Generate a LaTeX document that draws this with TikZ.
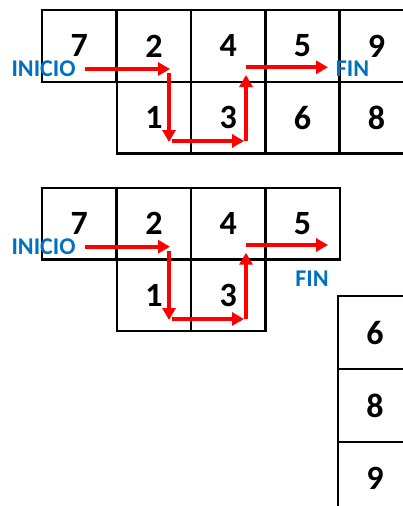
\documentclass[tikz,border=0pt]{standalone}
\usepackage{fontspec}
\setmainfont{Carlito}
\usetikzlibrary{arrows.meta}
\definecolor{lblblue}{HTML}{0070C0}
\tikzset{
  cell/.style={draw=black, line width=2.2pt, minimum width=74.4pt, minimum height=71.7pt, inner sep=0pt, anchor=north west, font=\fontsize{34}{34}\selectfont\bfseries},
  cellb/.style={cell, minimum width=74pt, minimum height=73pt},
  lbl/.style={text=lblblue, font=\fontsize{24}{24}\selectfont\bfseries, inner sep=0pt},
  path/.style={draw=red, line width=4pt, -{Triangle[length=12pt,width=13pt]}}
}
\begin{document}
\begin{tikzpicture}[x=1pt,y=-1pt]
\useasboundingbox (0,0) rectangle (403,506);
\clip (0,0) rectangle (403,506);
% top grid
\node[cell] (t7) at (41,9) {7};
\node[cell] (t2) at (115.7,9) {2};
\node[cell] (t4) at (190,9) {4};
\node[cell] (t5) at (264.3,9) {5};
\node[cell] (t9) at (338.3,9) {9};
\node[cell] (t1) at (115.7,80.7) {1};
\node[cell] (t3) at (190,80.7) {3};
\node[cell] (t6) at (264.3,80.7) {6};
\node[cell] (t8) at (338.3,80.7) {8};
\node[lbl] (tini) at (43.5,68.3) {INICIO};
\node[lbl] (tfin) at (352.5,68.3) {FIN};
\coordinate (ta1) at (85,69);   \coordinate (ta2) at (170,69);
\coordinate (tb1) at (169,73);  \coordinate (tb2) at (169,142);
\coordinate (tc1) at (172,141); \coordinate (tc2) at (244,141);
\coordinate (td1) at (246,141); \coordinate (td2) at (246,75);
\coordinate (te1) at (246,67.3); \coordinate (te2) at (328,67.3);
\draw[path] (ta1) -- (ta2);
\draw[path] (tb1) -- (tb2);
\draw[path] (tc1) -- (tc2);
\draw[path] (td1) -- (td2);
\draw[path] (te1) -- (te2);
% second grid
\node[cell] (s7) at (41,186.7) {7};
\node[cell] (s2) at (115.7,186.7) {2};
\node[cell] (s4) at (190,186.7) {4};
\node[cell] (s5) at (264.3,186.7) {5};
\node[cell] (s1) at (115.7,258.4) {1};
\node[cell] (s3) at (190,258.4) {3};
\node[lbl] (sini) at (43.5,246.5) {INICIO};
\node[lbl] (sfin) at (312,278.3) {FIN};
\coordinate (sa1) at (85,246.7);   \coordinate (sa2) at (170,246.7);
\coordinate (sb1) at (169,250.7);  \coordinate (sb2) at (169,320);
\coordinate (sc1) at (172,319); \coordinate (sc2) at (244,319);
\coordinate (sd1) at (246,319); \coordinate (sd2) at (246,252.7);
\coordinate (se1) at (246,245); \coordinate (se2) at (328,245);
\draw[path] (sa1) -- (sa2);
\draw[path] (sb1) -- (sb2);
\draw[path] (sc1) -- (sc2);
\draw[path] (sd1) -- (sd2);
\draw[path] (se1) -- (se2);
% right column
\node[cellb] (r6) at (337,295) {6};
\node[cellb] (r8) at (337,368) {8};
\node[cellb] (r9) at (337,441) {9};
\end{tikzpicture}
\end{document}
